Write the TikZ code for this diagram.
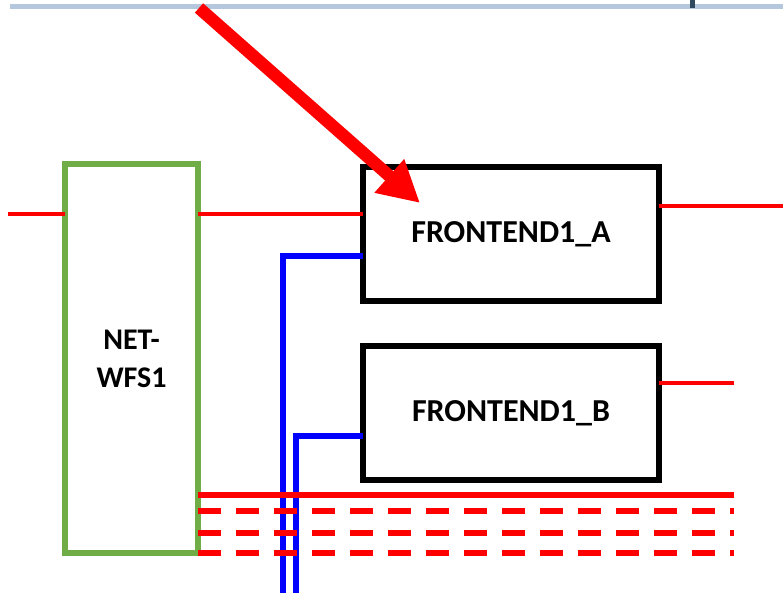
\documentclass[tikz,border=0pt]{standalone}
\usepackage{fontspec}
\setmainfont{Carlito}
\usepackage{tikz}
\usetikzlibrary{arrows.meta}

\definecolor{wfsgreen}{HTML}{70AD47}
\definecolor{rulelight}{HTML}{B4C7DD}
\definecolor{ruledark}{HTML}{2F4A5E}

\begin{document}
\begin{tikzpicture}[x=1pt, y=-1pt,
    unitbox/.style={draw, line width=6.5pt, outer sep=0pt, inner sep=0pt, align=center,
        font=\bfseries\fontsize{32}{38}\selectfont},
    redline/.style={draw=red, line width=4.5pt},
    busline/.style={draw=red, line width=5.5pt},
    blueline/.style={draw=blue, line width=5.5pt}]
    \useasboundingbox (0,0) rectangle (783,593);

    % Top rule
    \draw[rulelight, line width=5.5pt] (10,6.5) -- (783,6.5);
    \fill[ruledark] (690,0) rectangle (695,8);

    % Boxes
    \node[unitbox, draw=wfsgreen, minimum width=133pt, minimum height=389pt,
        font=\bfseries\fontsize{30}{38}\selectfont] (wfs) at (131.5,358.5) {NET-\\WFS1};
    \node[unitbox, minimum width=296pt, minimum height=134pt] (fea) at (511,234) {FRONTEND1\_A};
    \node[unitbox, minimum width=296pt, minimum height=134pt] (feb) at (511,413) {FRONTEND1\_B};

    % Free ends
    \coordinate (inL) at (8,214);
    \coordinate (outA) at (783,206);
    \coordinate (outB) at (734,383);
    \coordinate (downA) at (283,593);
    \coordinate (downB) at (296,593);

    % Blue links
    \draw[blueline] ([yshift=-22pt]fea.west) -| (downA);
    \draw[blueline] ([yshift=-23pt]feb.west) -| (downB);

    % Red links
    \draw[redline] (inL) -- (inL -| wfs.west);
    \draw[redline] (inL -| wfs.east) -- (inL -| fea.west);
    \draw[redline] (outA -| fea.east) -- (outA);
    \draw[redline] (outB -| feb.east) -- (outB);

    % Bus lines
    \coordinate (bus0) at (734,495);
    \draw[busline] (bus0 -| wfs.east) -- (bus0);
    \foreach \y in {511,533,553} {
        \coordinate (bus\y) at (734,\y);
        \draw[busline, dash pattern=on 23pt off 15pt] (bus\y -| wfs.east) -- (bus\y);
    }

    % Pointer
    \coordinate (ptrStart) at (199,8);
    \coordinate (ptrTip) at (420,203);
    \draw[red, line width=12.5pt, -{Triangle[length=41pt, width=42pt]}] (ptrStart) -- (ptrTip);
\end{tikzpicture}
\end{document}
